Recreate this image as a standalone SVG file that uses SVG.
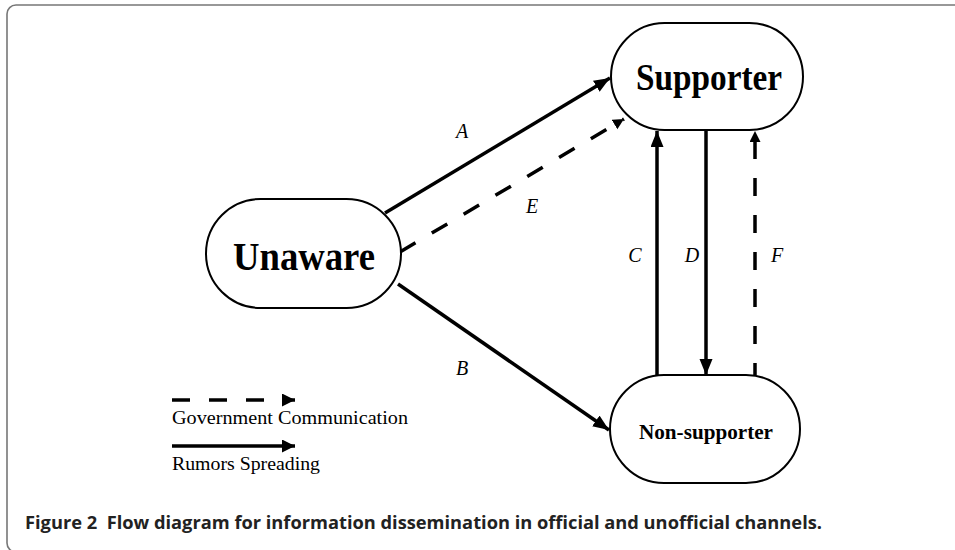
<svg xmlns="http://www.w3.org/2000/svg" width="955" height="550" viewBox="0 0 955 550">
<defs>
<style>
.frame{fill:#fff;stroke:#777;stroke-width:1.6}
.node{fill:#fff;stroke:#000;stroke-width:2}
.lbl{font-family:"Liberation Serif",serif;font-weight:bold;fill:#000}
.sym{font-family:"Liberation Serif",serif;font-style:italic;font-size:20px;fill:#000}
.leg{font-family:"Liberation Serif",serif;font-size:18px;fill:#000}
.solid{fill:none;stroke:#000;stroke-width:3.5}
.dash{fill:none;stroke:#000;stroke-width:3.5;stroke-dasharray:18 19}
.cap{font-family:"Open Sans","Liberation Sans",sans-serif;font-weight:bold;font-size:17px;fill:#222}
</style>
<marker id="big" markerUnits="userSpaceOnUse" markerWidth="20" markerHeight="14" refX="16" refY="6.5" orient="auto">
<path d="M0,0 L16,6.5 L0,13 Z" fill="#000"/>
</marker>
<marker id="small" markerUnits="userSpaceOnUse" markerWidth="14" markerHeight="14" refX="11" refY="5.5" orient="auto">
<path d="M0,0 L11,5.5 L0,11 Z" fill="#000"/>
</marker>
<marker id="leg" markerUnits="userSpaceOnUse" markerWidth="16" markerHeight="16" refX="13" refY="6.5" orient="auto">
<path d="M0,0 L13,6.5 L0,13 Z" fill="#000"/>
</marker>
</defs>
<rect class="frame" x="7" y="5" width="970" height="547" rx="9"/>

<g id="connectors">
<line id="A" class="solid" x1="385" y1="213" x2="610" y2="78" marker-end="url(#big)"/>
<line id="E" class="dash" x1="400" y1="252" x2="624" y2="119" marker-end="url(#small)"/>
<line id="B" class="solid" x1="398" y1="284" x2="609" y2="430" marker-end="url(#big)"/>
<line id="C" class="solid" x1="657" y1="375" x2="657" y2="131" marker-end="url(#big)"/>
<line id="D" class="solid" x1="706" y1="131" x2="706" y2="375" marker-end="url(#big)"/>
<line id="F" class="dash" x1="755" y1="375" x2="755" y2="131" style="stroke-dashoffset:6" marker-end="url(#small)"/>
<text class="sym" x="462" y="138" text-anchor="middle">A</text>
<text class="sym" x="532" y="213" text-anchor="middle">E</text>
<text class="sym" x="462" y="375" text-anchor="middle">B</text>
<text class="sym" x="635" y="262" text-anchor="middle">C</text>
<text class="sym" x="692" y="262" text-anchor="middle">D</text>
<text class="sym" x="777" y="262" text-anchor="middle">F</text>
</g>

<g id="supporter">
<rect class="node" x="611" y="23" width="192" height="107" rx="53.5"/>
<text class="lbl" x="709" y="90" font-size="38" text-anchor="middle" textLength="146" lengthAdjust="spacingAndGlyphs">Supporter</text>
</g>
<g id="unaware">
<rect class="node" x="206" y="199" width="195" height="109" rx="54.5"/>
<text class="lbl" x="304" y="270" font-size="41" text-anchor="middle" textLength="142" lengthAdjust="spacingAndGlyphs">Unaware</text>
</g>
<g id="nonsupporter">
<rect class="node" x="610" y="375" width="190" height="108" rx="54"/>
<text class="lbl" x="706" y="439" font-size="22" text-anchor="middle" textLength="134" lengthAdjust="spacingAndGlyphs">Non-supporter</text>
</g>

<g id="legend">
<line class="dash" x1="172" y1="400" x2="295" y2="400" style="stroke-dasharray:18 19" marker-end="url(#leg)"/>
<text class="leg" x="172" y="424" textLength="236" lengthAdjust="spacingAndGlyphs">Government Communication</text>
<line class="solid" x1="172" y1="446" x2="295" y2="446" marker-end="url(#leg)"/>
<text class="leg" x="172" y="470" textLength="148" lengthAdjust="spacingAndGlyphs">Rumors Spreading</text>
</g>

<text class="cap" x="25" y="529" xml:space="preserve" textLength="797" lengthAdjust="spacingAndGlyphs">Figure 2  Flow diagram for information dissemination in official and unofficial channels.</text>
</svg>
